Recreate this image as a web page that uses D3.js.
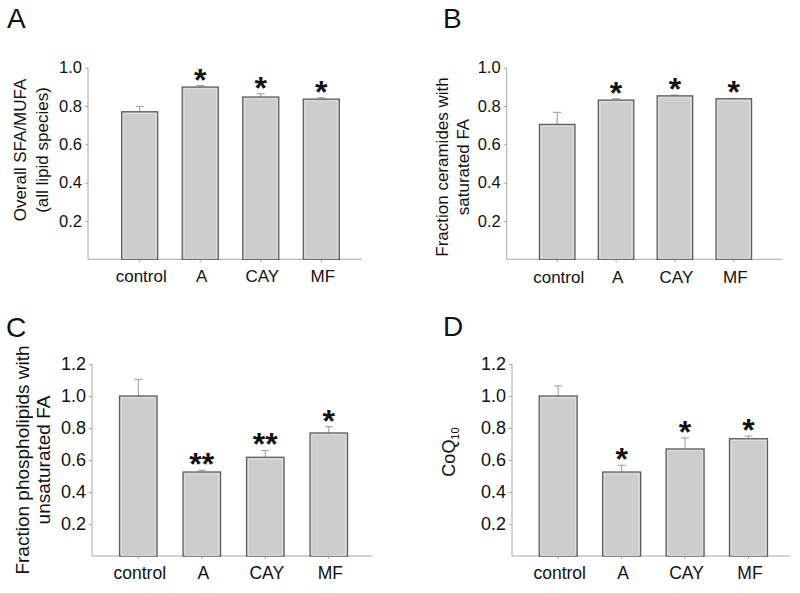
<!DOCTYPE html>
<html><head><meta charset="utf-8">
<script src="https://cdn.jsdelivr.net/npm/d3@7"></script>
<style>
body{margin:0;background:#fff}
svg{display:block}
text{font-family:Arial,"Liberation Sans",sans-serif;fill:#111}
</style>
</head><body>
<svg id="chart" width="800" height="593"></svg>
<script>
// ---------- data ----------
const categories = ["control", "A", "CAY", "MF"];

const valuesA = [0.770, 0.899, 0.847, 0.836];
const errorsA = [0.028, 0.008, 0.017, 0.007];
const sigA    = ["", "*", "*", "*"];

const valuesB = [0.704, 0.831, 0.853, 0.838];
const errorsB = [0.063, 0.007, 0.004, 0.002];
const sigB    = ["", "*", "*", "*"];

const valuesC = [1.000, 0.525, 0.617, 0.769];
const errorsC = [0.104, 0.011, 0.043, 0.039];
const sigC    = ["", "**", "**", "*"];

const valuesD = [1.000, 0.525, 0.669, 0.733];
const errorsD = [0.063, 0.042, 0.069, 0.017];
const sigD    = ["", "*", "*", "*"];

const ticksAB = [0.2, 0.4, 0.6, 0.8, 1.0];
const ticksCD = [0.2, 0.4, 0.6, 0.8, 1.0, 1.2];

const titleA = ["Overall SFA/MUFA", "(all lipid species)"];
const titleB = ["Fraction ceramides with", "saturated FA"];
const titleC = ["Fraction phospholipids with", "unsaturated FA"];

// ---------- layout ----------
const panels = [
  {letter:"A", values:valuesA, errors:errorsA, sig:sigA, ticks:ticksAB, yMax:1.0, title:titleA,
   ax:88, axR:362, xF:139.7, xL:321.3, y0:259.3, yT:67.7, bw:36, tf:16.5, lf:17, lb:282,
   titleFont:17, titleX:[26,47.5], titleCY:150, lx:7, ly:28},
  {letter:"B", values:valuesB, errors:errorsB, sig:sigB, ticks:ticksAB, yMax:1.0, title:titleB,
   ax:506.7, axR:782.3, xF:557.2, xL:733.8, y0:259.3, yT:67.7, bw:35.5, tf:16.5, lf:17, lb:282.7,
   titleFont:17, titleX:[448,469], titleCY:167, lx:443, ly:28},
  {letter:"C", values:valuesC, errors:errorsC, sig:sigC, ticks:ticksCD, yMax:1.2, title:titleC,
   ax:92, axR:372.3, xF:138.3, xL:328.8, y0:556, yT:364, bw:37.5, tf:18, lf:17.5, lb:579.3,
   titleFont:19, titleX:[29,50], titleCY:460, lx:6, ly:337},
  {letter:"D", values:valuesD, errors:errorsD, sig:sigD, ticks:ticksCD, yMax:1.2, title:null,
   ax:512, axR:790, xF:558.2, xL:748.5, y0:556, yT:364, bw:38, tf:18, lf:17.5, lb:579.3,
   titleFont:18, titleX:[455], titleCY:452, lx:443, ly:336}
];

const svg = d3.select("#chart");
const axisColor = "#a8a8a8";

panels.forEach(p => {
  const g = svg.append("g");
  const x = d3.scalePoint().domain(categories).range([p.xF, p.xL]);
  const y = d3.scaleLinear().domain([0, p.yMax]).range([p.y0, p.yT]);

  // y axis
  const ya = g.append("g").attr("transform", `translate(${p.ax},0)`)
    .call(d3.axisLeft(y).tickValues(p.ticks).tickFormat(d3.format(".1f")).tickSize(3).tickPadding(3));
  ya.select(".domain").attr("stroke", axisColor).attr("d", `M-0,${y(p.yMax)}V${y(0)}`);
  ya.selectAll(".tick line").attr("stroke", axisColor);
  ya.selectAll(".tick text").attr("font-size", p.tf).attr("fill", "#111");
  ya.attr("font-family", null);

  // x axis line
  g.append("line").attr("x1", p.ax).attr("x2", p.axR).attr("y1", y(0)).attr("y2", y(0))
    .attr("stroke", axisColor).attr("stroke-width", 1);
  // x ticks
  g.selectAll(".xt").data(categories).join("line")
    .attr("x1", d => x(d)).attr("x2", d => x(d)).attr("y1", y(0)).attr("y2", y(0) + 3)
    .attr("stroke", axisColor);
  g.selectAll(".xl").data(categories).join("text")
    .attr("x", d => x(d) + 1.5).attr("y", p.lb).attr("text-anchor", "middle")
    .attr("font-size", p.lf).text(d => d);

  // bars
  const data = categories.map((c, i) => ({c, v: p.values[i], e: p.errors[i], s: p.sig[i]}));

  // error bars (drawn first so bar covers lower part)
  g.selectAll(".eb").data(data).join("path")
    .attr("d", d => `M${x(d.c)},${y(d.v)}V${y(d.v + d.e)}M${x(d.c) - 4},${y(d.v + d.e)}H${x(d.c) + 4}`)
    .attr("stroke", "#9a9a9a").attr("stroke-width", 1).attr("fill", "none");

  g.selectAll(".bar").data(data).join("rect")
    .attr("x", d => x(d.c) - p.bw / 2).attr("width", p.bw)
    .attr("y", d => y(d.v)).attr("height", d => y(0) - y(d.v))
    .attr("fill", "#cdcdcd").attr("stroke", "#5e5e5e").attr("stroke-width", 1.3);
  g.selectAll(".barIn").data(data).join("rect")
    .attr("x", d => x(d.c) - p.bw / 2 + 1.8).attr("width", p.bw - 3.6)
    .attr("y", d => y(d.v) + 1.8).attr("height", d => Math.max(0, y(0) - y(d.v) - 2.4))
    .attr("fill", "none").attr("stroke", "#e4e4e4").attr("stroke-width", 0.8);

  // significance stars
  g.selectAll(".sig").data(data.filter(d => d.s)).join("text")
    .attr("x", d => x(d.c)).attr("y", d => y(d.v + d.e) + 5)
    .attr("text-anchor", "middle").attr("font-size", 32).attr("font-weight", "bold")
    .text(d => d.s);

  // panel letter
  g.append("text").attr("x", p.lx).attr("y", p.ly).attr("font-size", 28).text(p.letter);

  // y title
  if (p.title) {
    p.title.forEach((t, i) => {
      g.append("text")
        .attr("transform", `translate(${p.titleX[i]},${p.titleCY}) rotate(-90)`)
        .attr("text-anchor", "middle").attr("font-size", p.titleFont).text(t);
    });
  } else {
    const t = g.append("text")
      .attr("transform", `translate(${p.titleX[0]},${p.titleCY}) rotate(-90)`)
      .attr("text-anchor", "middle").attr("font-size", p.titleFont);
    t.append("tspan").text("CoQ");
    t.append("tspan").attr("font-size", 11).attr("dy", 4).text("10");
  }
});
</script>
</body></html>
